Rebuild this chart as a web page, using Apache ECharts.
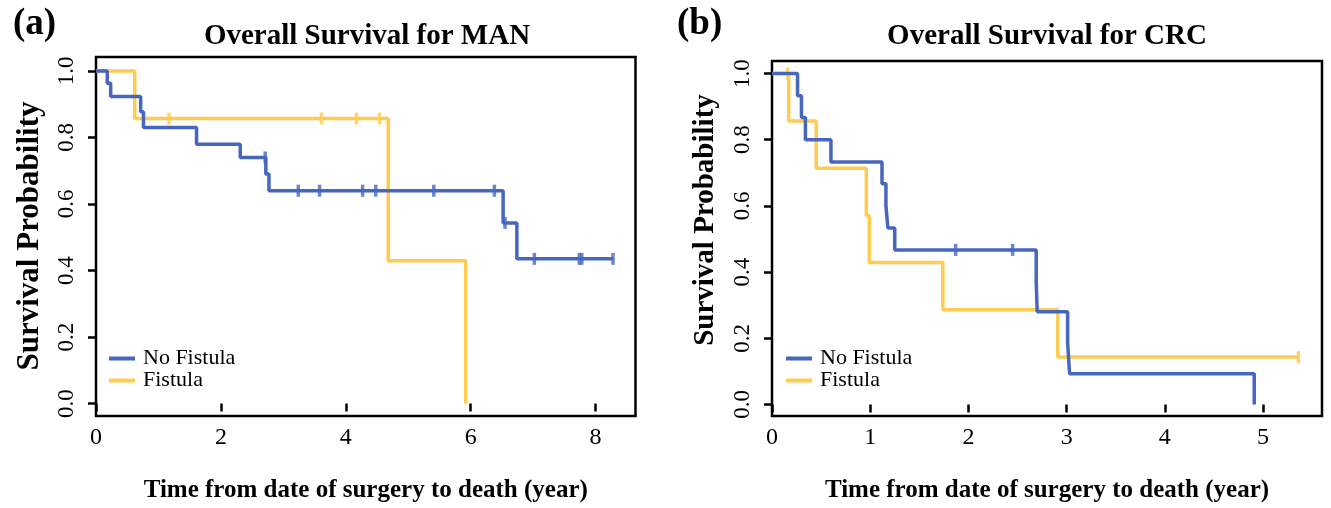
<!DOCTYPE html>
<html><head><meta charset="utf-8">
<script src="https://cdn.jsdelivr.net/npm/echarts@6/dist/echarts.min.js"></script>
<style>html,body{margin:0;padding:0;background:#fff}#c{width:1331px;height:508px}</style>
</head><body><div id="c"></div>
<script>
// Panel (a) MAN
const manNoFistulaTime = [0, 0.18, 0.235, 0.715, 0.76, 1.61, 2.31, 2.72, 2.77, 6.52, 6.74, 8.28];
const manNoFistulaSurv = [1, 0.963, 0.923, 0.877, 0.830, 0.780, 0.740, 0.690, 0.640, 0.543, 0.435, 0.435];
const manNoFistulaCensor = [2.71, 3.24, 3.58, 4.27, 4.48, 5.41, 6.38, 6.55, 7.02, 7.74, 7.78, 8.28];
const manFistulaTime = [0, 0.62, 4.68, 5.92];
const manFistulaSurv = [1, 0.857, 0.429, 0];
const manFistulaCensor = [1.17, 3.61, 4.17, 4.54];
// Panel (b) CRC
const crcNoFistulaTime = [0, 0.26, 0.30, 0.34, 0.60, 1.12, 1.16, 1.18, 1.25, 2.69, 2.70, 3.01, 3.03, 4.91];
const crcNoFistulaSurv = [1, 0.933, 0.867, 0.800, 0.733, 0.667, 0.600, 0.533, 0.467, 0.373, 0.280, 0.187, 0.093, 0];
const crcNoFistulaCensor = [1.87, 2.45];
const crcFistulaTime = [0, 0.17, 0.45, 0.96, 0.99, 1.74, 2.91, 5.36];
const crcFistulaSurv = [1, 0.857, 0.714, 0.571, 0.429, 0.286, 0.143, 0.143];
const crcFistulaCensor = [0.16, 5.36];
// Axis ticks & texts
const manXTicks = [0, 2, 4, 6, 8];
const crcXTicks = [0, 1, 2, 3, 4, 5];
const survTicks = [0, 0.2, 0.4, 0.6, 0.8, 1.0];
const seriesNames = ['No Fistula', 'Fistula'];
const panelTitles = ['Overall Survival for MAN', 'Overall Survival for CRC'];
const panelLetters = ['(a)', '(b)'];
const xTitle = 'Time from date of surgery to death (year)';
const yTitle = 'Survival Probability';

const BLUE = '#4767BE', YELLOW = '#FFCB50';
const FONT = '"Liberation Serif", "DejaVu Serif", serif';

function pairs(t, s) { return t.map((v, i) => [v, s[i]]); }
function survAt(t, s, x) { let v = s[0]; for (let i = 0; i < t.length; i++) { if (t[i] <= x) v = s[i]; } return v; }
function censorPts(t, s, c) { return c.map(x => [x, survAt(t, s, x)]); }

const chart = echarts.init(document.getElementById('c'), null, { renderer: 'canvas' });

const grids = [
  { left: 96, top: 57, width: 539.5, height: 360 },
  { left: 772, top: 61, width: 550, height: 356 }
];
const xMax = [8.64, 5.6];
const yMin = [-0.0375, -0.035];
const yMax = [1.042, 1.038];
const xTicks = [manXTicks, crcXTicks];

const xAxes = [], yAxes = [];
for (let i = 0; i < 2; i++) {
  xAxes.push({
    type: 'value', gridIndex: i, min: 0, max: xMax[i],
    axisLine: { show: false },
    axisTick: { show: true, length: 8, lineStyle: { color: '#000', width: 2.5 }, customValues: xTicks[i] },
    axisLabel: { customValues: xTicks[i], color: '#000', fontFamily: FONT, fontSize: 24, margin: 10, formatter: v => String(v) },
    splitLine: { show: false },
    name: xTitle, nameLocation: 'middle', nameGap: 62,
    nameTextStyle: { fontFamily: FONT, fontSize: 25, fontWeight: 'bold', color: '#000' }
  });
  yAxes.push({
    type: 'value', gridIndex: i, min: yMin[i], max: yMax[i],
    axisLine: { show: false },
    axisTick: { show: true, length: 8, lineStyle: { color: '#000', width: 2.5 }, customValues: survTicks },
    axisLabel: { customValues: survTicks, rotate: 90, color: '#000', fontFamily: FONT, fontSize: 23, margin: 18, formatter: v => v.toFixed(1) },
    splitLine: { show: false }
  });
}

const data = [
  [[manNoFistulaTime, manNoFistulaSurv, manNoFistulaCensor], [manFistulaTime, manFistulaSurv, manFistulaCensor]],
  [[crcNoFistulaTime, crcNoFistulaSurv, crcNoFistulaCensor], [crcFistulaTime, crcFistulaSurv, crcFistulaCensor]]
];
const colors = [BLUE, YELLOW];
const series = [];
for (let p = 0; p < 2; p++) {
  for (const k of [1, 0]) {
    const [t, s, c] = data[p][k];
    series.push({
      name: seriesNames[k], type: 'line', xAxisIndex: p, yAxisIndex: p, step: 'end',
      data: pairs(t, s), symbol: 'none', color: colors[k],
      lineStyle: { color: colors[k], width: 3.5 }, z: 3 + (1 - k), animation: false
    });
    series.push({
      name: seriesNames[k] + ' censored', type: 'scatter', xAxisIndex: p, yAxisIndex: p,
      data: censorPts(t, s, c), symbol: 'rect', symbolSize: [3.5, 12],
      itemStyle: { color: colors[k] }, z: 3 + (1 - k), animation: false
    });
  }
}

const legendPos = [{ left: 109, top: 347.5 }, { left: 786, top: 347.5 }];
const legends = legendPos.map(pos => ({
  data: seriesNames, orient: 'vertical', left: pos.left, top: pos.top, padding: 0,
  icon: 'rect', itemWidth: 26, itemHeight: 4, itemGap: 0,
  textStyle: { fontFamily: FONT, fontSize: 22, color: '#000', lineHeight: 21, padding: [0, 0, 0, 3] },
  selectedMode: false
}));

const titles = [];
const titleCenters = [362, 1042];
for (let i = 0; i < 2; i++) {
  titles.push({ text: panelTitles[i], left: titleCenters[i], top: 17, textAlign: 'center',
    textStyle: { fontFamily: FONT, fontSize: 29, fontWeight: 'bold', color: '#000' } });
}
titles.push({ text: panelLetters[0], left: 8, top: 1, textStyle: { fontFamily: FONT, fontSize: 37, fontWeight: 'bold', color: '#000' } });
titles.push({ text: panelLetters[1], left: 672, top: 1, textStyle: { fontFamily: FONT, fontSize: 37, fontWeight: 'bold', color: '#000' } });

// y-axis titles (rotated text)
const yTitlePos = [{ x: 30, y: 236, size: 31 }, { x: 706, y: 220, size: 29 }];
const graphics = yTitlePos.map(p => ({
  type: 'text', x: p.x, y: p.y, rotation: Math.PI / 2,
  style: { text: yTitle, fontFamily: FONT, fontSize: p.size, fontWeight: 'bold', fill: '#000', align: 'center', verticalAlign: 'middle' }
}));

chart.setOption({
  backgroundColor: '#fff',
  animation: false,
  title: titles,
  legend: legends,
  grid: grids.map(g => Object.assign({ show: true, borderColor: '#000', borderWidth: 2.5, backgroundColor: 'transparent', containLabel: false }, g)),
  xAxis: xAxes,
  yAxis: yAxes,
  series: series,
  graphic: graphics
});
</script>
</body></html>
